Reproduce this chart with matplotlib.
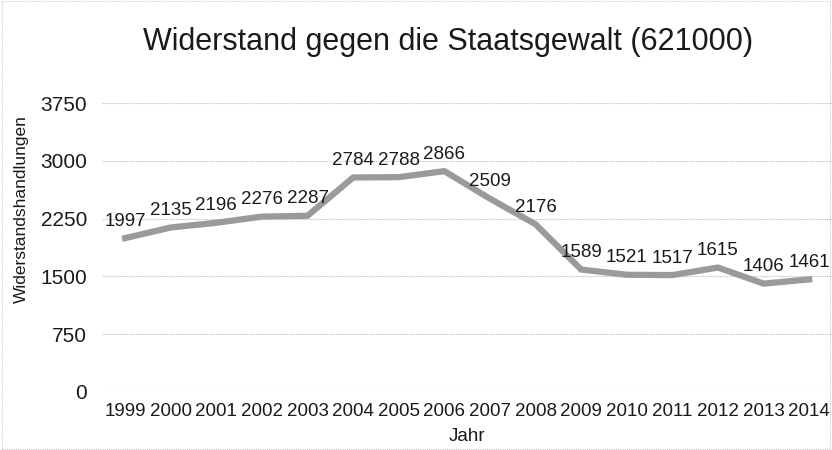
import matplotlib.pyplot as plt

plt.rcParams['font.family'] = ['Liberation Sans', 'DejaVu Sans']

# Widerstandshandlungen pro Jahr
years = ["1999", "2000", "2001", "2002", "2003", "2004", "2005", "2006",
         "2007", "2008", "2009", "2010", "2011", "2012", "2013", "2014"]
counts = [1997, 2135, 2196, 2276, 2287, 2784, 2788, 2866,
          2509, 2176, 1589, 1521, 1517, 1615, 1406, 1461]
yticks = [0, 750, 1500, 2250, 3000, 3750]

fig = plt.figure(figsize=(8.32, 4.5), dpi=100)
ax = fig.add_axes([0.123, 0.129, 0.877, 0.642])

x = list(range(len(years)))
ax.plot(x, counts, color="#9a9a9a", lw=4.5, solid_joinstyle="round", zorder=3)

for xi, v in zip(x, counts):
    ax.annotate(str(v), (xi, v), xytext=(0, 6), textcoords="offset points",
                ha="center", va="bottom", fontsize=13.5, color="#1a1a1a")

ax.set_xlim(-0.5, len(years) - 0.5)
ax.set_ylim(0, 3750)
ax.set_yticks(yticks)
ax.set_xticks(x)
ax.set_xticklabels(years)
ax.tick_params(length=0, colors="#1a1a1a")
ax.tick_params(axis="y", labelsize=15, pad=11)
ax.tick_params(axis="x", labelsize=13.5, pad=8)
ax.grid(axis="y", color="#bbbbbb", lw=0.8, ls=(0, (1, 1)))
ax.set_axisbelow(True)
for s in ax.spines.values():
    s.set_visible(False)

ax.set_ylabel("Widerstandshandlungen", fontsize=12.5, color="#1a1a1a")
ax.yaxis.set_label_coords(-0.101, 0.633)
ax.set_xlabel("Jahr", fontsize=13.5, color="#1a1a1a", labelpad=6)
fig.text(0.538, 0.907, "Widerstand gegen die Staatsgewalt (621000)",
         ha="center", va="center", fontsize=22, color="#1a1a1a")

fig.patches.append(plt.Rectangle((0.003, 0.003), 0.994, 0.994, transform=fig.transFigure,
                                 fill=False, ec="#cccccc", lw=0.8, ls=(0, (1, 1))))

fig.savefig("out.png", dpi=100)
